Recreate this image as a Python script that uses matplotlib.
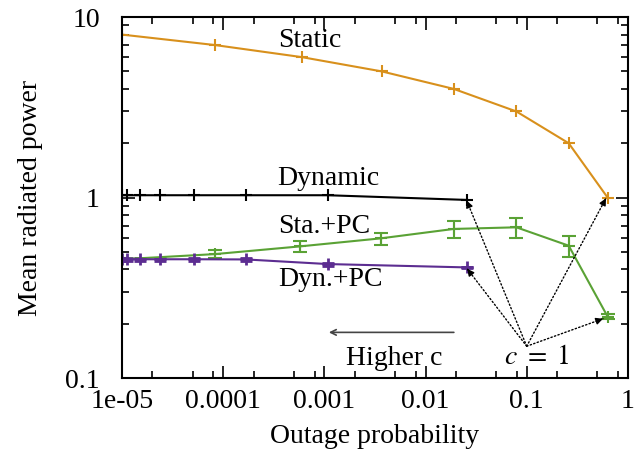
import numpy as np
import matplotlib
matplotlib.use("Agg")
import matplotlib.pyplot as plt
from matplotlib.ticker import FixedLocator, NullFormatter

plt.rcParams['font.family'] = ['Liberation Serif', 'DejaVu Serif']
plt.rcParams['mathtext.fontset'] = 'stix'

# data
static_x = [1e-5, 8.3e-5, 6.0e-4, 3.7e-3, 0.019, 0.079, 0.26, 0.63]
static_y = [8.0, 7.0, 6.0, 5.0, 4.0, 3.0, 2.0, 1.0]

dyn_x = [1e-5, 1.11e-5, 1.5e-5, 2.4e-5, 5.2e-5, 1.67e-4, 1.08e-3, 0.0258]
dyn_y = [1.03, 1.03, 1.03, 1.03, 1.03, 1.03, 1.03, 0.97]

stapc_x = [1e-5, 8.3e-5, 5.7e-4, 3.6e-3, 0.019, 0.079, 0.26, 0.63]
stapc_y = [0.455, 0.486, 0.536, 0.594, 0.67, 0.684, 0.541, 0.219]
stapc_err = [0.01, 0.025, 0.035, 0.045, 0.07, 0.09, 0.07, 0.008]

dynpc_x = [1e-5, 1.11e-5, 1.5e-5, 2.4e-5, 5.2e-5, 1.67e-4, 1.08e-3, 0.0258]
dynpc_y = [0.455, 0.455, 0.455, 0.455, 0.455, 0.454, 0.428, 0.41]
dynpc_err = [0.008, 0.008, 0.008, 0.008, 0.008, 0.008, 0.008, 0.004]

orange = '#d8901c'
green = '#5aa235'
purple = '#5c2d91'

fig = plt.figure(figsize=(6.44, 4.5), dpi=100)
ax = fig.add_axes([0.1894, 0.16, 0.7856, 0.802])

ax.plot(static_x, static_y, color=orange, lw=1.5, marker='+', ms=9, mew=1.5)
ax.plot(dyn_x, dyn_y, color='black', lw=1.5, marker='+', ms=9, mew=1.5)
ax.errorbar(stapc_x, stapc_y, yerr=stapc_err, color=green, lw=1.5,
            marker='+', ms=9, mew=1.5, capsize=5, elinewidth=1.5, capthick=1.5)
ax.errorbar(dynpc_x, dynpc_y, yerr=dynpc_err, color=purple, lw=1.5,
            marker='+', ms=9, mew=2, capsize=4, elinewidth=1.5, capthick=1.5)

ax.set_xscale('log')
ax.set_yscale('log')
ax.set_xlim(1e-5, 1)
ax.set_ylim(0.1, 10)

xmaj = [1e-5, 1e-4, 1e-3, 1e-2, 1e-1, 1]
ax.xaxis.set_major_locator(FixedLocator(xmaj))
ax.set_xticklabels(['1e-05', '0.0001', '0.001', '0.01', '0.1', '1'])
xmin = [m * d for d in [1e-5, 1e-4, 1e-3, 1e-2, 1e-1] for m in (2, 5, 8)]
ax.xaxis.set_minor_locator(FixedLocator(xmin))
ax.xaxis.set_minor_formatter(NullFormatter())

ax.yaxis.set_major_locator(FixedLocator([0.1, 1, 10]))
ax.set_yticklabels(['0.1', '1', '10'])
ymin = [m * d for d in [0.1, 1] for m in range(2, 10)]
ax.yaxis.set_minor_locator(FixedLocator(ymin))
ax.yaxis.set_minor_formatter(NullFormatter())

fs = 20
ax.tick_params(which='both', direction='in', top=True, right=True, labelsize=fs, width=1.2)
ax.tick_params(which='major', length=9)
ax.tick_params(which='minor', length=5)
ax.tick_params(axis='x', which='major', pad=8)
ax.tick_params(axis='y', which='major', pad=16)
for s in ax.spines.values():
    s.set_linewidth(1.5)

ax.set_xlabel('Outage probability', fontsize=fs, labelpad=7)
ax.set_ylabel('Mean radiated power', fontsize=fs, labelpad=16)

ax.text(7.2e-4, 7.45, 'Static', fontsize=fs, ha='center', va='center')
ax.text(1.09e-3, 1.276, 'Dynamic', fontsize=fs, ha='center', va='center')
ax.text(9.9e-4, 0.69, 'Sta.+PC', fontsize=fs, ha='center', va='center')
ax.text(1.16e-3, 0.35, 'Dyn.+PC', fontsize=fs, ha='center', va='center')
ax.text(4.87e-3, 0.129, 'Higher c', fontsize=fs, ha='center', va='center')
ax.text(0.126, 0.13, r'$c\ =\ 1$', fontsize=fs, ha='center', va='center')

ax.annotate('', xy=(1.04e-3, 0.179), xytext=(0.0203, 0.179),
            arrowprops=dict(arrowstyle='->', color='#444444', lw=1.2))

origin = (0.1, 0.15)
tips = [(0.0255, 0.962), (0.0258, 0.403), (0.607, 0.99), (0.567, 0.213)]
for tx, ty in tips:
    ax.annotate('', xy=(tx, ty), xytext=origin,
                arrowprops=dict(arrowstyle='-', color='black', lw=1, ls=':',
                                shrinkA=0, shrinkB=0))
    hx = tx * (origin[0] / tx) ** 0.04
    hy = ty * (origin[1] / ty) ** 0.04
    ax.annotate('', xy=(tx, ty), xytext=(hx, hy),
                arrowprops=dict(arrowstyle='-|>', color='black', lw=1,
                                mutation_scale=10, shrinkA=0, shrinkB=0))

fig.savefig('out.png', dpi=100)
